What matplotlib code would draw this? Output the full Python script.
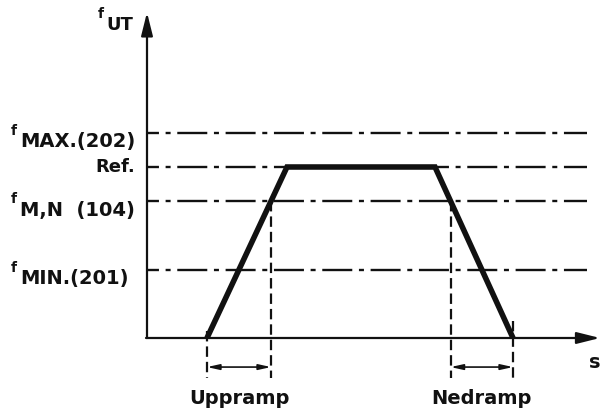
import numpy as np
import matplotlib.pyplot as plt

plt.rcParams['lines.scale_dashes'] = False
plt.rcParams['font.family'] = ['DejaVu Sans']

# frequency levels (arbitrary units) and their labels
levels = [60, 50, 40, 20]
level_names = ['MAX.(202)', 'Ref.', 'M,N  (104)', 'MIN.(201)']
level_has_f = [True, False, True, True]

# ramp profile: time points and output frequency
t_ramp = [6, 14, 28.8, 36.6]
f_ramp = [0, 50, 50, 0]
f_cross = 40   # ramp times are measured up to f M,N

fig = plt.figure(figsize=(6.01, 4.08), dpi=100)
ax = fig.add_axes([0, 0, 1, 1])
ax.set_xlim(-14.7, 45.4)
ax.set_ylim(-20.47, 98.83)
ax.axis('off')

ink = '#111111'

# axes with arrows
arr = dict(arrowstyle='-|>,head_length=1.0,head_width=0.25', color=ink,
           lw=1.6, mutation_scale=14, shrinkA=0, shrinkB=0)
ax.annotate('', xy=(0, 95.2), xytext=(0, 0), arrowprops=arr)
ax.annotate('', xy=(45.3, 0), xytext=(-0.1, 0), arrowprops=arr)

# dash-dot reference lines
for lv in levels:
    ax.plot([0, 44.0], [lv, lv], color=ink, lw=1.7,
            linestyle=(13, (21.6, 4.8, 3.6, 4.8)), solid_capstyle='butt')

# ramp curve
ax.plot(t_ramp, f_ramp, color=ink, lw=4.0, solid_joinstyle='miter',
        solid_capstyle='butt')

# times where the ramp passes f M,N
t_up = t_ramp[0] + (t_ramp[1] - t_ramp[0]) * f_cross / f_ramp[1]
t_dn = t_ramp[2] + (t_ramp[3] - t_ramp[2]) * (f_ramp[2] - f_cross) / f_ramp[2]

y_low = -11.8
y_arr = -8.5
dash_v = dict(color=ink, lw=1.6, linestyle=(0, (7.5, 3.6)))
ax.plot([t_ramp[0], t_ramp[0]], [2, y_low], **dash_v)
ax.plot([t_up, t_up], [f_cross, y_low], **dash_v)
ax.plot([t_dn, t_dn], [f_cross, y_low], **dash_v)
ax.plot([t_ramp[3], t_ramp[3]], [5, y_low], **dash_v)

dbl = dict(arrowstyle='<|-|>,head_length=0.9,head_width=0.2', color=ink,
           lw=1.2, mutation_scale=8, shrinkA=0, shrinkB=0)
ax.annotate('', xy=(t_ramp[0], y_arr), xytext=(t_up, y_arr), arrowprops=dbl)
ax.annotate('', xy=(t_dn, y_arr), xytext=(t_ramp[3], y_arr), arrowprops=dbl)

fs = 14
ax.text((t_ramp[0] + t_up) / 2, -17.6, 'Uppramp', ha='center', va='center',
        fontsize=fs, fontweight='bold', color=ink)
ax.text((t_dn + t_ramp[3]) / 2, -17.6, 'Nedramp', ha='center', va='center',
        fontsize=fs, fontweight='bold', color=ink)
ax.text(44.8, -7.3, 's', ha='center', va='center', fontsize=fs,
        fontweight='bold', color=ink)

# y axis title
ax.text(-4.95, 94.6, 'f', ha='left', va='center', fontsize=10,
        fontweight='bold', color=ink)
ax.text(-4.1, 91.4, 'UT', ha='left', va='center', fontsize=13,
        fontweight='bold', color=ink)

# level labels
right_edge = [-1.2, -1.2, -1.2, -1.8]
for lv, name, has_f, xr in zip(levels, level_names, level_has_f, right_edge):
    if has_f:
        ax.text(xr, lv - 2.6, name, ha='right', va='center', fontsize=fs,
                fontweight='bold', color=ink)
        ax.text(-13.6, lv + 0.6, 'f', ha='left', va='center', fontsize=10,
                fontweight='bold', color=ink)
    else:
        ax.text(xr, lv, name, ha='right', va='center', fontsize=fs - 1,
                fontweight='bold', color=ink)

fig.savefig('out.png', dpi=100)
